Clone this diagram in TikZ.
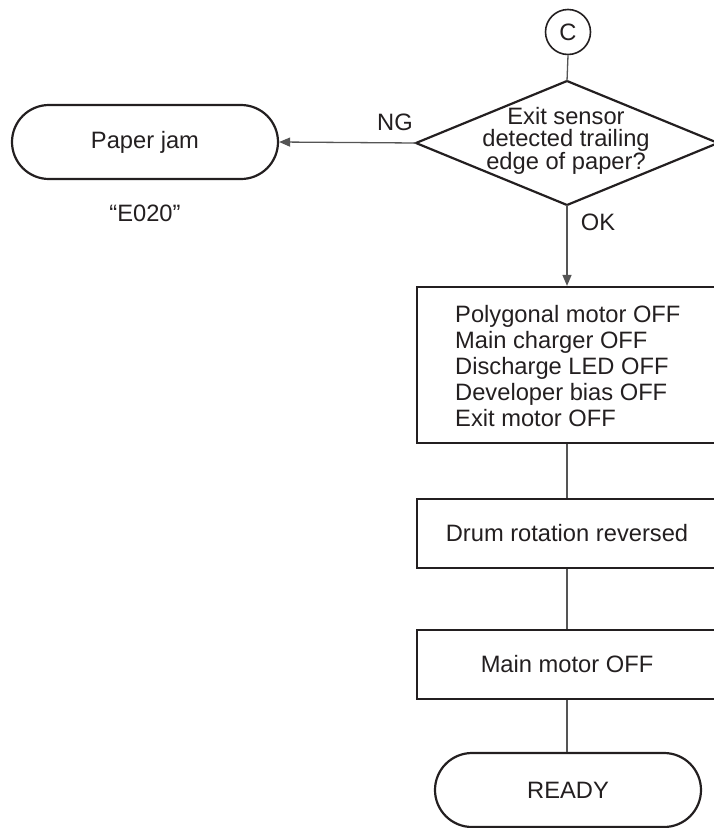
\documentclass[tikz,border=0pt]{standalone}
\usepackage{fontspec}
\setmainfont{Liberation Sans}
\usetikzlibrary{arrows.meta,shapes.misc}
\definecolor{ink}{HTML}{231F20}
\definecolor{wire}{HTML}{555555}
\begin{document}
\begin{tikzpicture}[x=1pt,y=-1pt,
  every node/.style={font=\fontsize{23.7}{26}\selectfont, text=ink},
  procbox/.style={draw=ink, line width=2.2pt, rectangle, minimum width=300pt, inner sep=0pt},
  term/.style={draw=ink, line width=2.2pt, rounded rectangle, minimum width=266pt, minimum height=74pt, inner sep=0pt},
  conn/.style={draw=wire, line width=1.3pt},
  arr/.style={conn, -{Triangle[length=11pt,width=9pt]}},
  lbl/.style={font=\fontsize{23.7}{26}\selectfont}
]
\useasboundingbox (0,0) rectangle (714,828);
\clip (0,0) rectangle (714,828);

\node[draw=ink, line width=1.6pt, circle, minimum size=45pt, inner sep=0pt] (c) at (568,32) {C};

\coordinate (dT) at (567,81);
\coordinate (dL) at (416,143);
\coordinate (dR) at (718,143);
\coordinate (dB) at (567,205);
\draw[draw=ink, line width=2.2pt, line join=miter] (dT) -- (dR) -- (dB) -- (dL) -- cycle;
\node[align=center, inner sep=0pt, font=\fontsize{23.7}{21.5}\selectfont] (dtext) at (566,141) {Exit sensor\\detected trailing\\edge of paper?};

\node[term] (jam) at (145,142) {Paper jam};
\node[lbl] (e020) at (145,213) {“E020”};
\node[lbl] (ng) at (395,122) {NG};
\node[lbl] (ok) at (598,222) {OK};

\node[procbox, minimum height=156pt] (b1) at (567,365) {};
\node[anchor=west, align=left, inner sep=0pt] (t1) at (455,366) {Polygonal motor OFF\\Main charger OFF\\Discharge LED OFF\\Developer bias OFF\\Exit motor OFF};
\node[procbox, minimum height=69pt] (b2) at (567,533.5) {Drum rotation reversed};
\node[procbox, minimum height=69pt] (b3) at (567,664.5) {Main motor OFF};
\node[term] (ready) at (568,790) {READY};

\draw[conn] (c.south) -- (dT);
\draw[arr] (dL) -- (jam.east);
\draw[arr] (dB) -- (b1.north);
\draw[conn] (b1.south) -- (b2.north);
\draw[conn] (b2.south) -- (b3.north);
\draw[conn] (b3.south) -- (b3.south |- ready.north);
\end{tikzpicture}
\end{document}
